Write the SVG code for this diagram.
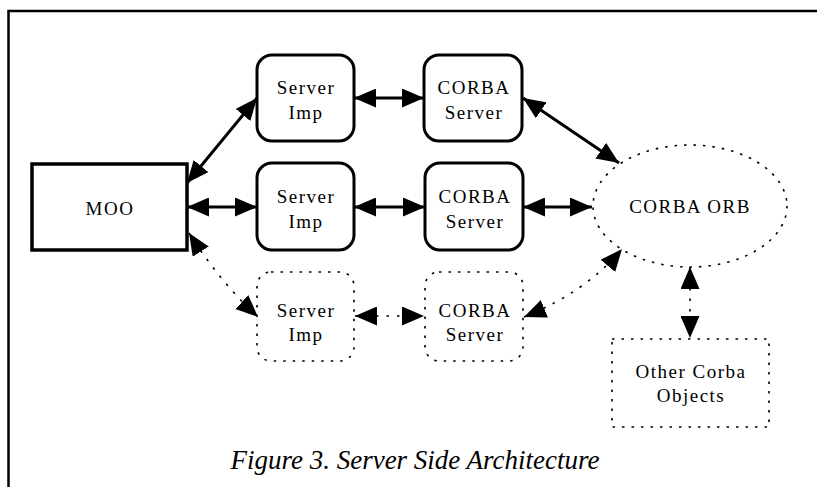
<svg xmlns="http://www.w3.org/2000/svg" width="817" height="487" viewBox="0 0 817 487">
<style>
.lbl{font-family:"Liberation Serif","Times New Roman",serif;font-size:19px;letter-spacing:1.5px;text-anchor:middle;fill:#000}
.solid{fill:#fff;stroke:#000;stroke-width:3}
.dot{fill:#fff;stroke:#000;stroke-width:1.6;stroke-dasharray:2.5 7}
.c{fill:none;stroke:#000;stroke-width:3;marker-start:url(#ah);marker-end:url(#ah)}
.cd{fill:none;stroke:#000;stroke-width:1.6;stroke-dasharray:2.5 8;marker-start:url(#ah);marker-end:url(#ah)}
.cap{font-family:"Liberation Serif","Times New Roman",serif;font-style:italic;font-size:27px;text-anchor:middle;fill:#000}
</style>
<defs>
<marker id="ah" markerUnits="userSpaceOnUse" markerWidth="22" markerHeight="19" refX="22" refY="9.5" orient="auto-start-reverse" viewBox="0 0 22 19">
<path d="M0,0 L22,9.5 L0,19 z" fill="#000"/>
</marker>
</defs>
<rect width="817" height="487" fill="#fff"/>
<path d="M8.5,487 V11 H817" fill="none" stroke="#000" stroke-width="2.5"/>

<g id="connectors">
<line class="c" x1="187" y1="183" x2="257" y2="98"/>
<line class="c" x1="187" y1="207" x2="257" y2="207"/>
<line class="c" x1="354" y1="98" x2="424" y2="98"/>
<line class="c" x1="354" y1="207" x2="425" y2="207"/>
<line class="c" x1="523" y1="98" x2="619" y2="163"/>
<line class="c" x1="523" y1="207" x2="592" y2="207"/>
<path class="cd" d="M189,233 Q220,282 258,317"/>
<line class="cd" x1="355" y1="316" x2="424" y2="316"/>
<path class="cd" d="M524,317 Q586,292 622,249"/>
<line class="cd" x1="690" y1="267" x2="690" y2="338"/>
</g>

<g id="moo">
<rect x="32" y="164" width="155" height="86" fill="#fff" stroke="#000" stroke-width="3.5"/>
<text class="lbl" x="110" y="215">MOO</text>
</g>
<g id="server-imp-1">
<rect class="solid" x="257" y="55" width="97" height="86" rx="15"/>
<text class="lbl" x="306" y="94">Server</text>
<text class="lbl" x="306" y="119">Imp</text>
</g>
<g id="corba-server-1">
<rect class="solid" x="424" y="55" width="98" height="86" rx="15"/>
<text class="lbl" x="474" y="94">CORBA</text>
<text class="lbl" x="474" y="119">Server</text>
</g>
<g id="server-imp-2">
<rect class="solid" x="257" y="163" width="97" height="87" rx="15"/>
<text class="lbl" x="306" y="203">Server</text>
<text class="lbl" x="306" y="228">Imp</text>
</g>
<g id="corba-server-2">
<rect class="solid" x="425" y="163" width="98" height="87" rx="15"/>
<text class="lbl" x="475" y="203">CORBA</text>
<text class="lbl" x="475" y="228">Server</text>
</g>
<g id="server-imp-3">
<rect class="dot" x="257" y="272" width="97" height="89" rx="14"/>
<text class="lbl" x="306" y="317">Server</text>
<text class="lbl" x="306" y="341">Imp</text>
</g>
<g id="corba-server-3">
<rect class="dot" x="425" y="272" width="98" height="89" rx="14"/>
<text class="lbl" x="475" y="317">CORBA</text>
<text class="lbl" x="475" y="341">Server</text>
</g>
<g id="corba-orb">
<ellipse class="dot" cx="690" cy="206" rx="97" ry="61"/>
<text class="lbl" x="690" y="213">CORBA ORB</text>
</g>
<g id="other-objects">
<rect class="dot" x="612" y="339" width="157" height="88"/>
<text class="lbl" x="691" y="378">Other Corba</text>
<text class="lbl" x="691" y="402">Objects</text>
</g>
<text class="cap" x="415" y="469">Figure 3. Server Side Architecture</text>
</svg>
